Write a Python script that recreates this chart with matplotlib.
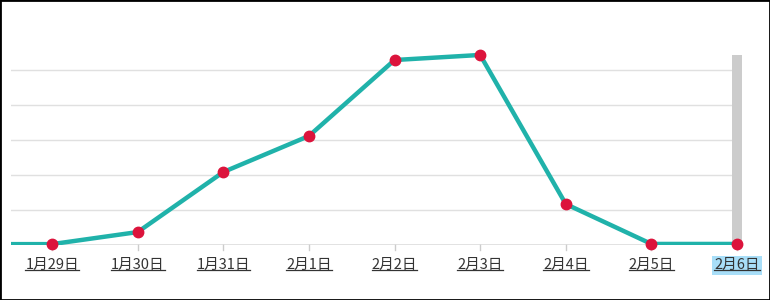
import matplotlib
matplotlib.use("Agg")
import matplotlib.pyplot as plt
from matplotlib.lines import Line2D
from matplotlib.patches import Rectangle

categories = ["1月29日", "1月30日", "1月31日", "2月1日", "2月2日", "2月3日", "2月4日", "2月5日", "2月6日"]
values = [0.5, 7.4, 41.7, 62.3, 105.7, 108.6, 23.4, 0.6, 0.6]
prev_value = 0.5  # value before the first category (line enters from the left edge)
grid_values = [20, 40, 60, 80, 100]
highlight_index = 8

plt.rcParams['font.family'] = ['Noto Sans CJK JP', 'DejaVu Sans']

fig = plt.figure(figsize=(7.7, 3.0), dpi=100)
W, H = 770, 300
ax = fig.add_axes([11 / W, 1 - 245 / H, (737 - 11) / W, (245 - 35) / H])
ax.set_xlim(-0.48, 8.0)
ax.set_ylim(0, 120)
for s in ax.spines.values():
    s.set_visible(False)
ax.set_xticks([])
ax.set_yticks([])

for g in grid_values:
    ax.axhline(g, color="#e0e0e0", lw=1, zorder=1)
ax.axhline(0, color="#6b6b6b", lw=1, zorder=2)

# highlight bar
ax.add_patch(Rectangle((highlight_index - 0.055, 0), 0.11, max(values),
                       facecolor="#cccccc", edgecolor="none", zorder=1.5, clip_on=False))

xs = [-1] + list(range(len(values)))
ys = [prev_value] + values
ax.plot(xs, ys, color="#20b2aa", lw=3.2, solid_capstyle="butt", zorder=3)
ax.plot(range(len(values)), values, "o", color="#dc143c", ms=7.5, mec="#dc143c", zorder=4, clip_on=False)

# tick marks below baseline
for i in range(len(categories)):
    ax.plot([i, i], [0, -2.9], color="#cccccc", lw=1, clip_on=False, zorder=1)

texts = []
for i, c in enumerate(categories):
    kw = {}
    if i == highlight_index:
        kw["bbox"] = dict(boxstyle="square,pad=0.18", facecolor="#a8def8", edgecolor="none")
    t = ax.text(i, -11.5, c, ha="center", va="center", fontsize=10.5, color="#333333",
                clip_on=False, **kw)
    texts.append(t)

fig.canvas.draw()
r = fig.canvas.get_renderer()
for t in texts:
    bb = t.get_window_extent(renderer=r)
    yline = bb.y0 + 2.0
    fig.add_artist(Line2D([bb.x0 / W, bb.x1 / W], [yline / H, yline / H],
                          transform=fig.transFigure, color="#333333", lw=0.9))

fig.add_artist(Rectangle((0, 0), 1, 1, transform=fig.transFigure, fill=False,
                         edgecolor="black", lw=2))
fig.savefig("out.png", dpi=100)
